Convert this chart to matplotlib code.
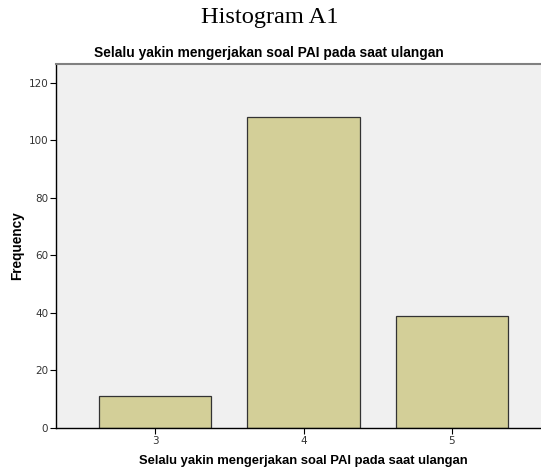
import matplotlib
matplotlib.use('Agg')
import matplotlib.pyplot as plt

categories = [3, 4, 5]
frequencies = [11, 108, 39]
y_ticks = [0, 20, 40, 60, 80, 100, 120]
var_label = 'Selalu yakin mengerjakan soal PAI pada saat ulangan'

fig = plt.figure(figsize=(5.41, 4.71), dpi=100)
fig.patch.set_facecolor('white')

ax = fig.add_axes([56/541, 43/471, 495/541, 364/471])
ax.set_facecolor('#f0f0f0')
ax.bar(categories, frequencies, width=0.755, color='#d3cf98',
       edgecolor='#333333', linewidth=0.9, zorder=2)

ax.set_xlim(2.333, 5.667)
ax.set_ylim(0, 126.5)
ax.set_xticks(categories)
ax.set_yticks(y_ticks)
ax.tick_params(axis='both', labelsize=7.5, direction='out', length=4,
               width=0.8, colors='black', labelcolor='#333333')
ax.tick_params(axis='x', pad=2)
ax.tick_params(axis='y', pad=1.5)

for s in ['left', 'bottom']:
    ax.spines[s].set_color('black')
    ax.spines[s].set_linewidth(1.0)
ax.spines['top'].set_color('#808080')
ax.spines['top'].set_linewidth(1.5)
ax.spines['right'].set_visible(False)

ax.set_ylabel('Frequency', fontsize=9.8, fontweight='bold',
              family='Liberation Sans', labelpad=3)
ax.set_xlabel(var_label, fontsize=9.4, fontweight='bold',
              family='Liberation Sans', labelpad=6)

fig.text(270/541, 1 - 17/471, 'Histogram A1', ha='center', va='center',
         fontsize=17.6, family='Liberation Serif')
fig.text(269/541, 1 - 53/471, var_label, ha='center', va='center',
         fontsize=9.9, fontweight='bold', family='Liberation Sans')

fig.savefig('out.png', dpi=100)
